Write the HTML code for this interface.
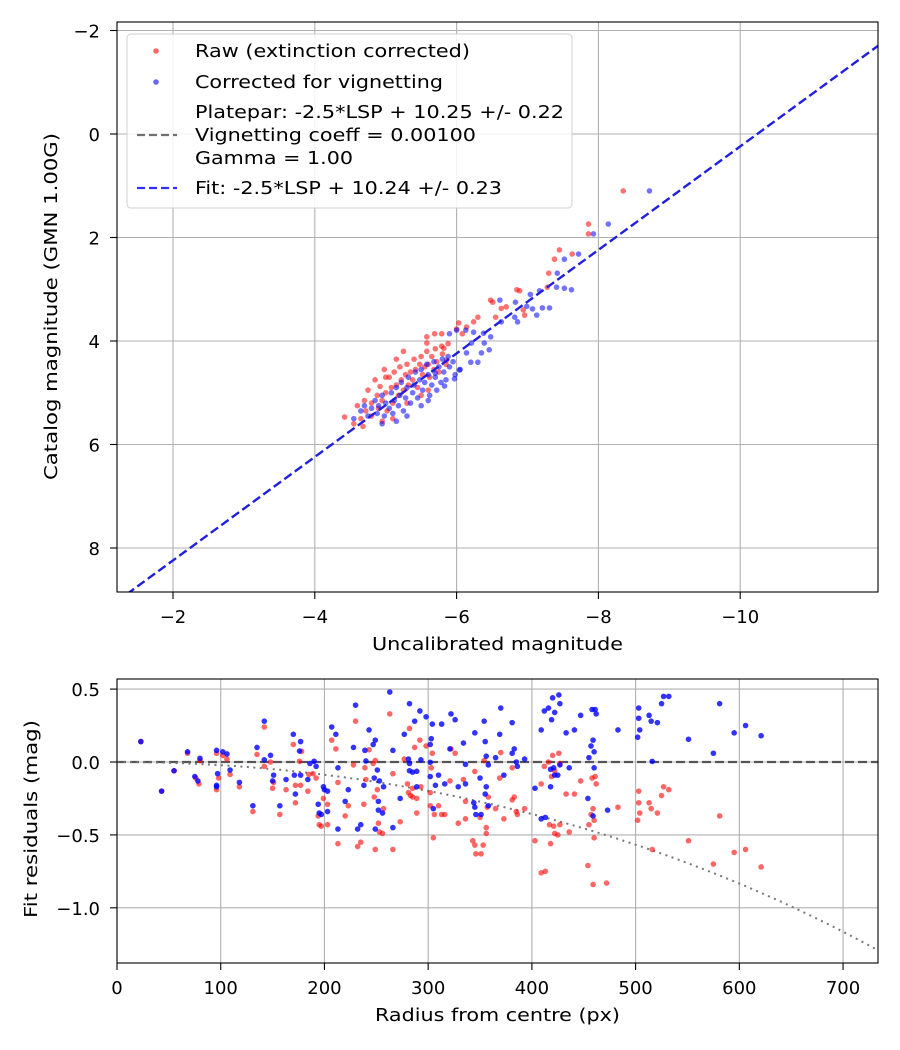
<!DOCTYPE html>
<html><head><meta charset="utf-8">
<style>
body{margin:0;background:#fff;}
svg{display:block;font-family:"DejaVu Sans","Liberation Sans",sans-serif;}
</style></head>
<body>
<svg id="fig" width="900" height="1050" viewBox="0 0 900 1050" xmlns="http://www.w3.org/2000/svg">
<rect x="0" y="0" width="900" height="1050" fill="#fff"/>
<g id="topplot"></g>
<g id="botplot"></g>
</svg>
<script>
// ---- top chart data ----
const rawX = [-8.35,-7.86,-7.86,-7.45,-7.38,-7.63,-7.30,-7.28,-6.85,-6.89,-6.48,-6.51,-6.63,-6.70,-6.96,-6.94,-6.55,-6.30,-6.24,-6.03,-6.14,-5.69,-5.79,-5.58,-5.58,-5.79,-5.82,-5.86,-6.00,-6.08,
-4.42,-4.55,-4.6,-4.65,-4.7,-4.72,-4.75,-4.8,-4.8,-4.85,-4.88,-4.9,-4.92,-4.95,-4.98,-5.0,-5.02,-5.05,-5.08,-5.1,-5.12,-5.15,-5.18,-5.2,-5.22,-5.25,-5.28,-5.3,-5.32,-5.35,-5.38,-5.4,-5.42,-5.45,-5.48,-5.5,-5.52,-5.55,-5.58,-5.6,-5.62,-5.65,-5.68,-5.7,-5.72,-5.75,-5.8,-5.85,-5.88,-5.6,-5.5,-5.3,-5.1,-4.95,-4.68,-5.25,-5.0,-5.15];
const rawY = [1.10,1.74,1.93,2.24,2.42,2.32,2.69,2.96,3.01,3.03,3.21,3.25,3.37,3.34,3.50,3.40,3.54,3.54,3.63,3.65,3.73,3.86,3.86,3.92,4.04,4.10,4.14,4.37,3.77,3.86,
5.47,5.6,5.25,5.5,5.15,5.35,4.95,5.2,5.45,4.75,5.05,5.3,4.88,5.15,4.55,5.0,5.35,4.7,4.9,5.2,4.6,4.85,5.05,4.5,4.75,4.95,4.65,4.45,4.85,4.6,4.75,4.35,4.55,4.9,4.45,4.3,4.65,4.5,4.2,4.45,4.7,4.3,4.55,4.15,4.4,4.6,4.25,4.45,4.05,4.95,5.05,5.2,5.5,5.55,5.65,4.2,4.7,4.35];
const corX = [-8.72,-8.14,-7.93,-7.72,-7.52,-7.42,-7.41,-7.52,-7.62,-7.04,-7.17,-6.61,-6.83,-6.99,-7.07,-7.21,-7.31,-7.13,-6.82,-6.86,-6.63,-6.38,-6.48,-6.39,-6.46,-6.35,-6.13,-6.24,-6.21,-6.14,-6.20,-6.30,-6.04,-5.97,-5.83,-5.70,-5.90,-6.00,
-4.55,-4.65,-4.7,-4.75,-4.8,-4.85,-4.88,-4.9,-4.95,-4.98,-5.0,-5.05,-5.08,-5.1,-5.12,-5.15,-5.18,-5.2,-5.22,-5.25,-5.28,-5.3,-5.32,-5.35,-5.38,-5.4,-5.42,-5.45,-5.48,-5.5,-5.52,-5.55,-5.58,-5.6,-5.62,-5.65,-5.68,-5.7,-5.72,-5.75,-5.78,-5.8,-5.82,-5.85,-5.88,-5.9,-5.95,-5.98,-6.05,-5.5,-5.3,-5.15,-4.95,-5.6];
const corY = [1.10,1.74,1.93,2.32,2.42,2.69,2.96,2.98,3.01,3.10,3.03,3.21,3.25,3.33,3.38,3.36,3.36,3.50,3.54,3.63,3.63,3.85,3.92,4.04,4.17,4.23,3.79,3.83,4.04,4.23,4.41,4.41,4.56,4.73,4.87,4.62,3.86,3.79,
5.5,5.35,5.25,5.45,5.3,5.15,5.4,5.25,5.05,5.45,5.2,5.3,5.0,5.4,5.15,4.9,5.25,5.05,4.8,5.35,5.1,4.9,4.7,5.2,5.0,4.85,4.6,5.1,4.75,4.55,4.95,4.8,4.45,4.65,5.05,4.85,4.4,4.7,4.95,4.5,4.8,4.35,4.6,4.75,4.3,4.5,4.4,4.65,4.55,5.25,5.45,5.55,5.6,5.15];
const fitIntercept = 10.24;
const topXTicks = [-2,-4,-6,-8,-10];
const topYTicks = [-2,0,2,4,6,8];

// ---- residual chart data ----
const blueR = [23,43,55,68,80,75,78,96,102,106,97,96,96,109,118,131,135,142,142,148,151,150,157,163,170,171,172,176,177,177,184,186,190,192,194,195,197,199,200,203,203,207,211,213,213,220,223,228,230,232,235,238,239,240,243,247,249,251,248,253,257,252,252,256,249,263,266,266,273,277,282,281,282,282,287,285,289,289,292,293,298,302,302,303,304,302,305,307,310,313,316,322,326,321,329,336,334,336,345,344,345,346,351,350,354,355,356,358,356,355,358,365,
370,381,369,381,383,373,385,386,393,403,409,412,416,420,426,427,422,419,409,413,418,418,421,422,425,427,433,436,441,447,455,457,459,460,460,458,461,462,454,459,473,483,503,503,504,502,513,515,521,516,525,527,532,551,575,581,595,606,621];
const blueRes = [0.14,-0.20,-0.06,0.07,0.025,-0.10,-0.13,0.08,0.07,0.055,-0.08,-0.16,-0.17,-0.055,-0.14,-0.30,0.10,0.28,0.015,0.046,-0.09,-0.13,-0.30,-0.12,0.19,-0.09,-0.22,0.075,0.14,-0.09,-0.12,-0.01,0.005,-0.03,-0.29,-0.35,-0.36,-0.17,-0.19,-0.20,-0.34,0.24,0.19,-0.04,-0.46,-0.27,-0.19,0.10,0.39,-0.46,-0.43,-0.16,0.08,0.007,0.22,0.12,0.15,-0.055,-0.11,-0.13,-0.17,-0.27,-0.33,-0.35,-0.46,0.48,-0.45,0.08,-0.25,0.19,0.40,0.02,-0.01,-0.06,0.28,-0.07,-0.064,-0.17,0.35,0.015,0.31,0.12,-0.002,0.16,0.26,-0.10,-0.32,-0.16,-0.09,0.26,-0.15,0.33,0.29,0.09,-0.17,-0.016,0.13,-0.15,0.20,-0.28,-0.31,-0.36,-0.36,-0.11,0.28,0.14,0.04,-0.02,-0.17,-0.22,-0.30,0.03,
0.37,0.27,0.19,0.06,0.09,-0.09,0.0,-0.03,0.02,-0.18,0.22,0.35,0.37,0.44,0.46,0.40,0.34,0.29,-0.39,-0.38,-0.17,-0.05,-0.04,-0.09,-0.09,-0.02,0.20,-0.04,0.22,0.32,0.03,0.11,0.15,0.07,-0.04,0.36,0.36,0.33,-0.25,-0.37,-0.33,0.22,0.37,0.30,0.22,0.17,0.32,0.28,0.27,0.004,0.40,0.45,0.45,0.156,0.06,0.40,0.20,0.25,0.18];
const redR = [23,43,55,68,80,76,79,96,102,106,98,96,109,118,131,135,142,142,148,151,150,157,163,170,172,172,177,178,176,184,185,189,192,194,195,197,199,203,203,207,211,213,213,220,223,228,230,232,235,238,239,240,243,247,249,248,251,252,253,256,257,249,263,266,266,273,277,282,280,281,283,285,287,285,289,289,292,293,298,302,303,304,302,305,306,310,313,316,322,326,321,329,336,334,336,345,343,345,346,351,353,350,354,356,356,357,358,365,
370,381,369,381,383,373,385,386,393,403,409,412,416,420,426,427,422,419,409,413,418,417,421,422,425,427,433,436,441,447,455,457,459,460,460,458,461,462,454,459,472,483,503,503,504,502,513,515,521,516,525,527,532,551,575,581,595,606,621];
const redRes = [0.14,-0.20,-0.06,0.06,0.01,-0.11,-0.15,0.06,0.045,0.02,-0.11,-0.19,-0.085,-0.17,-0.34,0.052,0.24,-0.03,0.0,-0.14,-0.18,-0.36,-0.19,0.12,-0.28,-0.16,-0.16,0.073,0.005,-0.20,-0.085,-0.08,-0.11,-0.37,-0.43,-0.44,-0.25,-0.29,-0.43,0.15,0.09,-0.14,-0.56,-0.37,-0.30,-0.02,0.28,-0.58,-0.55,-0.29,-0.04,-0.12,0.084,-0.01,0.01,-0.24,-0.19,-0.42,-0.48,-0.49,-0.32,-0.60,0.33,-0.60,-0.08,-0.41,0.02,0.23,-0.15,-0.21,-0.23,-0.24,0.10,-0.18,-0.25,-0.35,0.15,-0.17,0.11,-0.21,-0.04,0.06,-0.30,-0.52,-0.36,-0.30,-0.36,-0.36,0.09,0.06,-0.13,-0.42,-0.27,-0.12,-0.39,-0.065,-0.54,-0.57,-0.63,-0.63,-0.57,-0.38,0.01,-0.45,-0.49,-0.31,-0.24,-0.32,
0.065,-0.04,-0.11,-0.26,-0.24,-0.39,-0.34,-0.36,-0.32,-0.54,-0.15,-0.03,0.0,0.045,0.06,-0.01,-0.06,-0.10,-0.76,-0.75,-0.56,-0.43,-0.44,-0.49,-0.50,-0.43,-0.22,-0.48,-0.22,-0.13,-0.43,-0.36,-0.32,-0.40,-0.52,-0.11,-0.10,-0.15,-0.71,-0.84,-0.83,-0.31,-0.20,-0.28,-0.35,-0.40,-0.28,-0.32,-0.35,-0.60,-0.23,-0.17,-0.19,-0.54,-0.70,-0.37,-0.62,-0.60,-0.72];
const vignCoeff = 0.001;
const botXTicks = [0,100,200,300,400,500,600,700];
const botYTicks = [0.5,0.0,-0.5,-1.0];
const botYTickLabels = ["0.5","0.0","−0.5","−1.0"];

const NS="http://www.w3.org/2000/svg";
function mk(parent,tag,attrs,text){const e=document.createElementNS(NS,tag);for(const k in attrs)e.setAttribute(k,attrs[k]);if(text!==undefined)e.textContent=text;parent.appendChild(e);return e;}
const fmt=v=>String(v).replace('-','−');
const FS=18;

// top axes
const T={l:117,r:878,t:22,b:592};
const tx=v=>173+(-2-v)*70.9;
const ty=v=>134+v*51.75;
const topG=document.getElementById('topplot');
const tg=mk(topG,'g',{});


topXTicks.forEach(v=>{
  mk(tg,'line',{x1:tx(v),x2:tx(v),y1:T.t,y2:T.b,stroke:'#b0b0b0','stroke-width':1.1});
  mk(tg,'line',{x1:tx(v),x2:tx(v),y1:T.b,y2:T.b+7,stroke:'#000','stroke-width':1.1});
  const t=mk(topG,'text',{x:tx(v),y:T.b+31,'font-size':FS,'text-anchor':'middle'},fmt(v));
  
  
});
topYTicks.forEach(v=>{
  mk(tg,'line',{x1:T.l,x2:T.r,y1:ty(v),y2:ty(v),stroke:'#b0b0b0','stroke-width':1.1});
  mk(tg,'line',{x1:T.l-7,x2:T.l,y1:ty(v),y2:ty(v),stroke:'#000','stroke-width':1.1});
  const t=mk(topG,'text',{x:100,y:ty(v)+7,'font-size':FS,'text-anchor':'end'},fmt(v));
  
  
});
const ct=mk(topG,'clipPath',{id:'ct'});
mk(ct,'rect',{x:T.l,y:T.t,width:T.r-T.l,height:T.b-T.t});
const tp=mk(topG,'g',{'clip-path':'url(#ct)'});
rawX.forEach((x,i)=>{const c=mk(tp,'circle',{cx:tx(x),cy:ty(rawY[i]),r:2.8,fill:'#ff0000','fill-opacity':0.55});
  
  });
corX.forEach((x,i)=>{const c=mk(tp,'circle',{cx:tx(x),cy:ty(corY[i]),r:2.8,fill:'#0000ff','fill-opacity':0.55});
  
  });
const x0=-1.2,x1=-12;
const fl=mk(tp,'line',{x1:tx(x0),y1:ty(x0+fitIntercept),x2:tx(x1),y2:ty(x1+fitIntercept),stroke:'#2020dd','stroke-width':2.4,'stroke-dasharray':'9,4'});


mk(topG,'rect',{x:T.l,y:T.t,width:T.r-T.l,height:T.b-T.t,fill:'none',stroke:'#000','stroke-width':1.1});
const xl=mk(topG,'text',{x:372,y:650,'font-size':FS,textLength:251,lengthAdjust:'spacingAndGlyphs'},'Uncalibrated magnitude');


const yl=mk(topG,'text',{x:0,y:0,'font-size':FS,textLength:347,lengthAdjust:'spacingAndGlyphs',transform:'translate(57,480) rotate(-90)'},'Catalog magnitude (GMN 1.00G)');



// legend
const lg=mk(topG,'g',{});


mk(lg,'rect',{x:127,y:34,width:445,height:174,rx:4,fill:'#fff','fill-opacity':0.85,stroke:'#d0d0d0'});
mk(lg,'circle',{cx:156,cy:51,r:2.8,fill:'#ff0000','fill-opacity':0.6});
mk(lg,'text',{x:195,y:57,'font-size':FS,textLength:275,lengthAdjust:'spacingAndGlyphs'},'Raw (extinction corrected)');
mk(lg,'circle',{cx:156,cy:82,r:2.8,fill:'#0000ff','fill-opacity':0.6});
mk(lg,'text',{x:195,y:88,'font-size':FS,textLength:248,lengthAdjust:'spacingAndGlyphs'},'Corrected for vignetting');
mk(lg,'line',{x1:137,x2:177,y1:135,y2:135,stroke:'#707070','stroke-width':2.2,'stroke-dasharray':'8,4'});
mk(lg,'text',{x:195,y:118,'font-size':FS,textLength:369,lengthAdjust:'spacingAndGlyphs'},'Platepar: -2.5*LSP + 10.25 +/- 0.22');
mk(lg,'text',{x:195,y:141,'font-size':FS,textLength:281,lengthAdjust:'spacingAndGlyphs'},'Vignetting coeff = 0.00100');
mk(lg,'text',{x:195,y:164,'font-size':FS,textLength:158,lengthAdjust:'spacingAndGlyphs'},'Gamma = 1.00');
mk(lg,'line',{x1:137,x2:177,y1:188,y2:188,stroke:'#3030ee','stroke-width':2.2,'stroke-dasharray':'8,4'});
mk(lg,'text',{x:195,y:194,'font-size':FS,textLength:307,lengthAdjust:'spacingAndGlyphs'},'Fit: -2.5*LSP + 10.24 +/- 0.23');

// bottom axes
const B={l:117,r:878,t:679,b:963};
const bx=v=>117+v*1.0372;
const by=v=>762-v*145.8;
const botG=document.getElementById('botplot');
const bgd=mk(botG,'g',{});


botXTicks.forEach(v=>{
  mk(bgd,'line',{x1:bx(v),x2:bx(v),y1:B.t,y2:B.b,stroke:'#b0b0b0','stroke-width':1.1});
  mk(bgd,'line',{x1:bx(v),x2:bx(v),y1:B.b,y2:B.b+7,stroke:'#000','stroke-width':1.1});
  const t=mk(botG,'text',{x:bx(v),y:B.b+31,'font-size':FS,'text-anchor':'middle'},String(v));
  
  
});
botYTicks.forEach((v,i)=>{
  mk(bgd,'line',{x1:B.l,x2:B.r,y1:by(v),y2:by(v),stroke:'#b0b0b0','stroke-width':1.1});
  mk(bgd,'line',{x1:B.l-7,x2:B.l,y1:by(v),y2:by(v),stroke:'#000','stroke-width':1.1});
  const t=mk(botG,'text',{x:100,y:by(v)+7,'font-size':FS,'text-anchor':'end'},botYTickLabels[i]);
  
  
});
const cb=mk(botG,'clipPath',{id:'cb'});
mk(cb,'rect',{x:B.l,y:B.t,width:B.r-B.l,height:B.b-B.t});
const bp=mk(botG,'g',{'clip-path':'url(#cb)'});
const zl=mk(bp,'line',{x1:B.l,x2:B.r,y1:by(0),y2:by(0),stroke:'#555','stroke-width':2.2,'stroke-dasharray':'9,4'});


let d='';
for(let r=0;r<=740;r+=5){const c=Math.cos(r*vignCoeff);const v=2.5*Math.log10(Math.pow(c,4));d+=(r?'L':'M')+bx(r).toFixed(1)+','+by(v).toFixed(1);}
const vc=mk(bp,'path',{d:d,fill:'none',stroke:'#777','stroke-width':2,'stroke-dasharray':'2,4.5'});


redR.forEach((r,i)=>{const c=mk(bp,'circle',{cx:bx(r),cy:by(redRes[i]),r:2.8,fill:'#ff0000','fill-opacity':0.6});
  
  });
blueR.forEach((r,i)=>{const c=mk(bp,'circle',{cx:bx(r),cy:by(blueRes[i]),r:2.8,fill:'#0000ff','fill-opacity':0.8});
  
  });
mk(botG,'rect',{x:B.l,y:B.t,width:B.r-B.l,height:B.b-B.t,fill:'none',stroke:'#000','stroke-width':1.1});
const bxl=mk(botG,'text',{x:375,y:1021,'font-size':FS,textLength:245,lengthAdjust:'spacingAndGlyphs'},'Radius from centre (px)');


const byl=mk(botG,'text',{x:0,y:0,'font-size':FS,textLength:198,lengthAdjust:'spacingAndGlyphs',transform:'translate(37,918) rotate(-90)'},'Fit residuals (mag)');


</script>
</body></html>
